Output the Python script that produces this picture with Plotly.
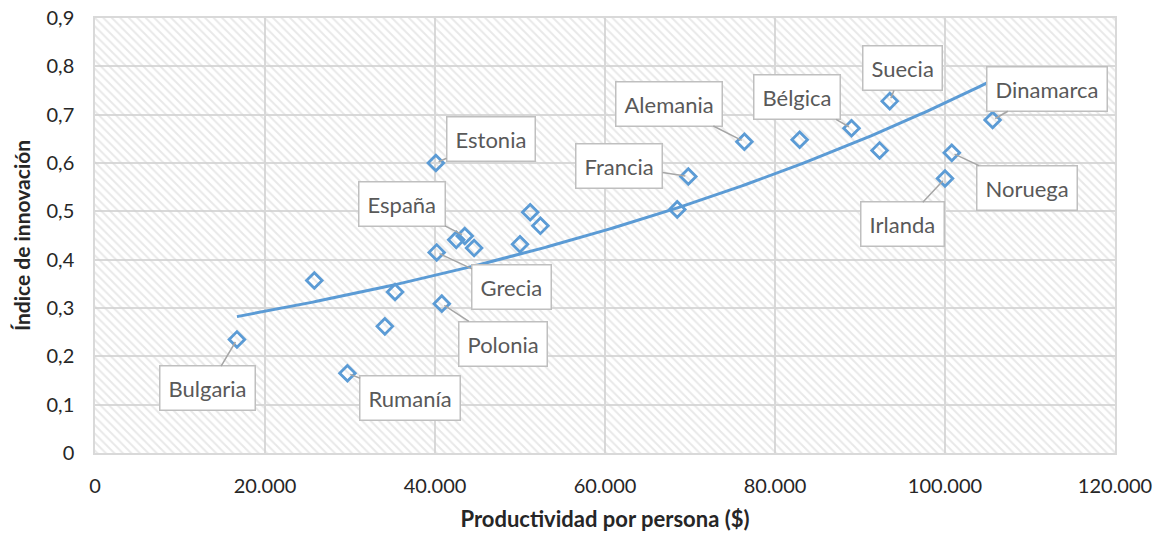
import numpy as np
import plotly.graph_objects as go

# ---- data ----
productividad = [16700, 29700, 34100, 25800, 35300, 40100, 40200, 40800, 42500, 43500,
                 44600, 50000, 51200, 52400, 68500, 69800, 76400, 82900, 89000, 92300,
                 93500, 100000, 100800, 105600]
innovacion = [0.235, 0.165, 0.262, 0.357, 0.333, 0.600, 0.415, 0.309, 0.441, 0.449,
              0.424, 0.432, 0.498, 0.470, 0.504, 0.572, 0.644, 0.648, 0.672, 0.626,
              0.728, 0.568, 0.621, 0.689]
paises = ["Bulgaria", "Rumanía", "", "", "", "Estonia", "Grecia", "Polonia", "", "España",
          "", "", "", "", "", "Francia", "Alemania", "", "Bélgica", "", "Suecia",
          "Irlanda", "Noruega", "Dinamarca"]
# label box offsets (pixels, relative to the point)
label_dx = [-29, 63, 0, 0, 0, 55, 75, 61, 0, -63, 0, 0, 0, 0, 0, -69, -75, 0, -55, 0, 13, -43, 75, 54]
label_dy = [49, 25, 0, 0, 0, -24, 35, 40, 0, -32, 0, 0, 0, 0, 0, -11, -38, 0, -31, 0, -33, 46, 35, -31]

x_range = [0, 120000]
y_range = [0, 0.9]

BLUE = "#5B9BD5"
GRID = "#d9d9d9"

fig = go.Figure()

# hatched plot-area background
fig.add_trace(go.Scatter(
    x=[x_range[0], x_range[1], x_range[1], x_range[0], x_range[0]],
    y=[y_range[0], y_range[0], y_range[1], y_range[1], y_range[0]],
    mode="lines", line=dict(width=0), fill="toself",
    fillcolor="rgba(0,0,0,0)",
    fillpattern=dict(shape="\\", fgcolor="#d2d2d2", bgcolor="rgba(0,0,0,0)",
                     size=6, solidity=0.32, fillmode="overlay"),
    hoverinfo="skip", showlegend=False))

# exponential trendline (least squares on ln y)
xa = np.array(productividad, dtype=float)
ya = np.array(innovacion, dtype=float)
b, ln_a = np.polyfit(xa, np.log(ya), 1)
xt = np.linspace(xa.min(), xa.max(), 200)
yt = np.exp(ln_a) * np.exp(b * xt)
fig.add_trace(go.Scatter(x=xt, y=yt, mode="lines",
                         line=dict(color=BLUE, width=3), showlegend=False, hoverinfo="skip"))

# points
fig.add_trace(go.Scatter(x=productividad, y=innovacion, mode="markers",
                         marker=dict(symbol="diamond-open", size=12, color=BLUE,
                                     line=dict(width=2.8, color=BLUE)),
                         showlegend=False))

for x, y, name, dx, dy in zip(productividad, innovacion, paises, label_dx, label_dy):
    if not name:
        continue
    fig.add_annotation(x=x, y=y, text=name, showarrow=True, ax=dx, ay=dy,
                       arrowhead=0, arrowwidth=1.5, arrowcolor="#a6a6a6", standoff=3,
                       font=dict(family="Lato", size=22, color="#595959"),
                       bgcolor="white", bordercolor="#bfbfbf", borderwidth=1.5,
                       borderpad=8)

fig.update_layout(
    width=1165, height=535,
    margin=dict(l=95, r=50, t=18, b=82),
    paper_bgcolor="white", plot_bgcolor="white",
    separators=",.",
    font=dict(family="Lato", size=20, color="#262626"),
    xaxis=dict(range=x_range, dtick=20000, tickformat=",d", showgrid=True,
               gridcolor=GRID, gridwidth=1.5, zeroline=False, showline=True,
               linecolor=GRID, linewidth=1.5, mirror=True, ticks="",
               ticklabelstandoff=14, automargin=False,
               title=dict(text="<b>Productividad por persona ($)</b>",
                          font=dict(size=22, color="#262626"), standoff=16)),
    yaxis=dict(range=y_range, dtick=0.1, showgrid=True, gridcolor=GRID, gridwidth=1.5,
               zeroline=False, showline=True, linecolor=GRID, linewidth=1.5, mirror=True,
               ticks="", ticklabelstandoff=15, automargin=False,
               title=dict(text="<b>Índice de innovación</b>",
                          font=dict(size=21, color="#262626"), standoff=10)),
)

fig.write_html("out.html", config={"displayModeBar": False},
               post_script="document.body.style.margin='0';document.body.style.overflow='hidden';")
